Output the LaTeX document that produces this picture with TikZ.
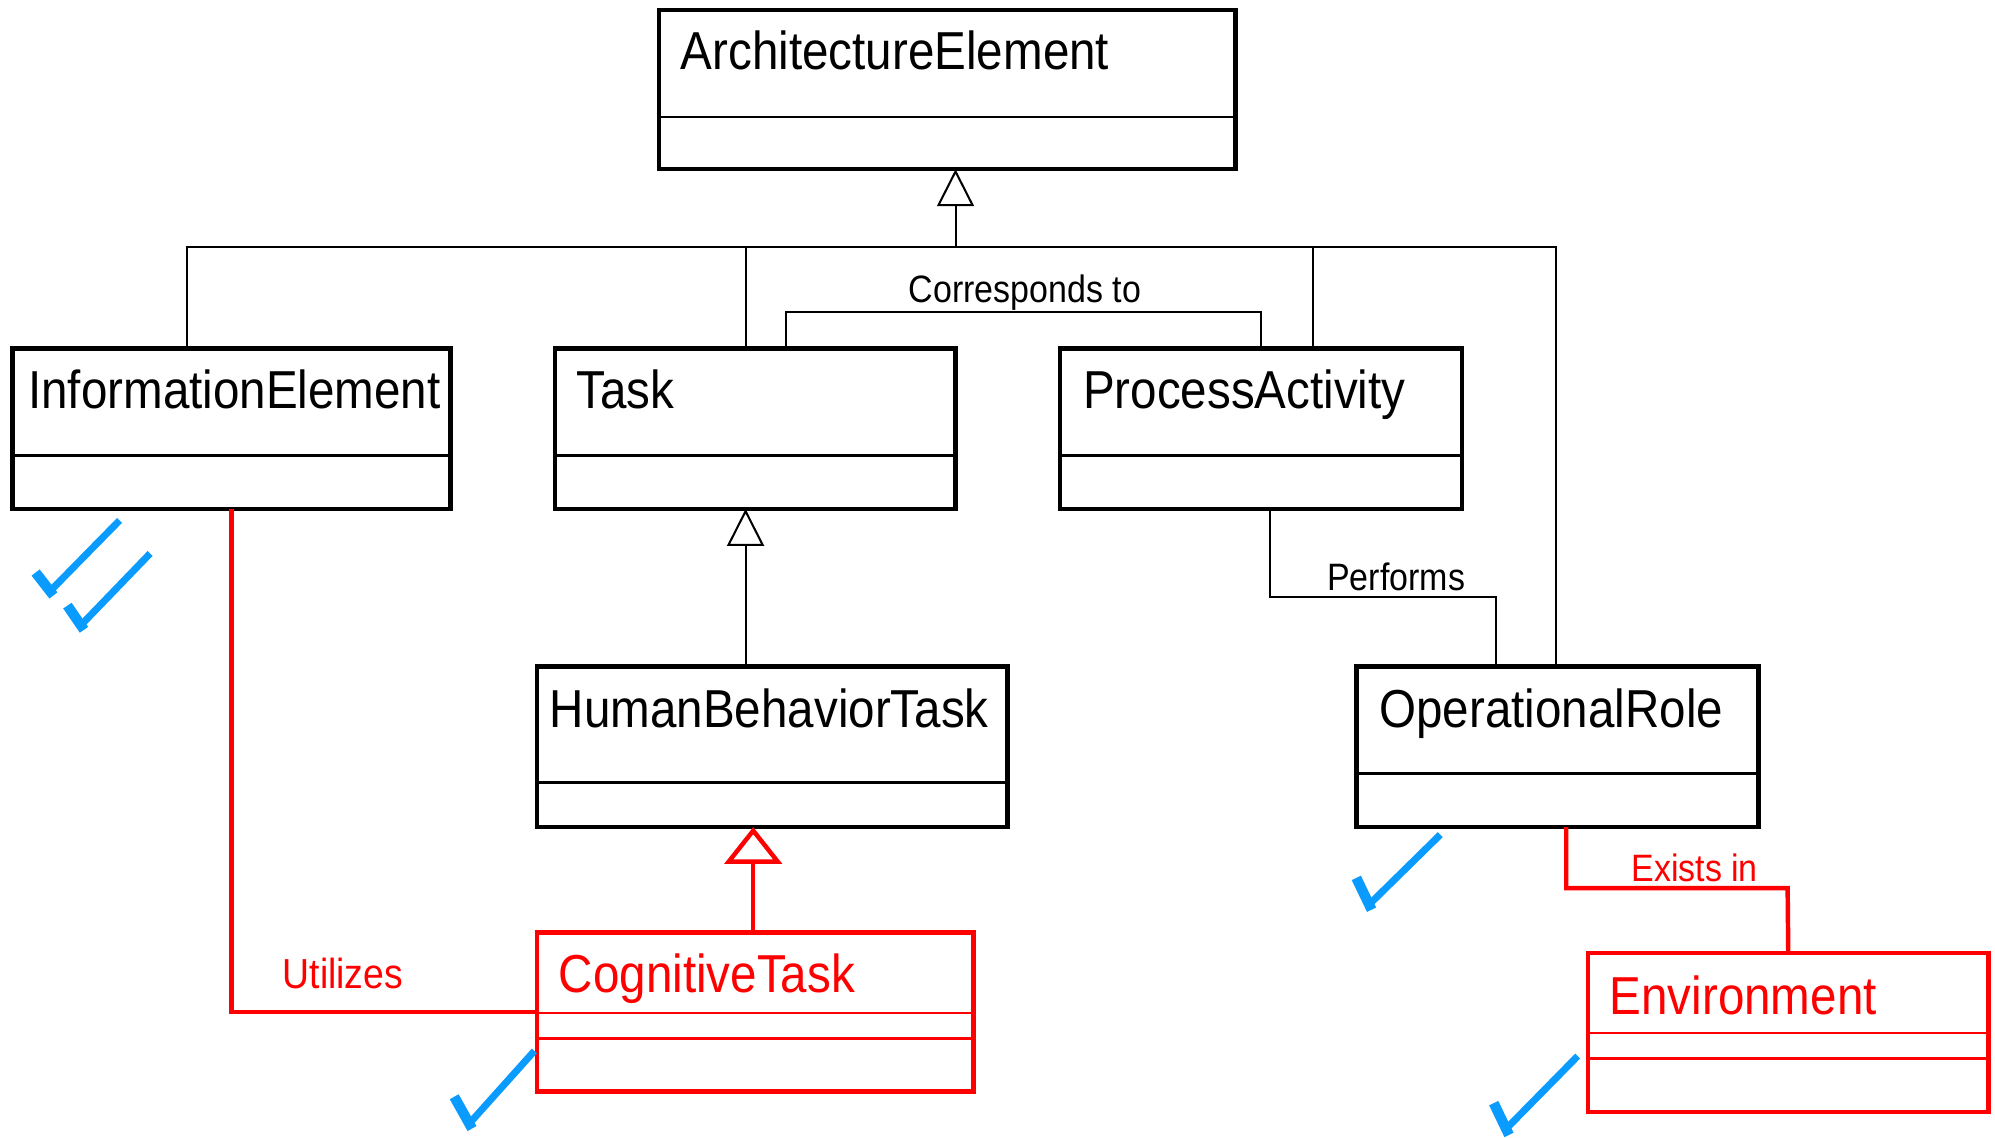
\documentclass[tikz,border=0pt]{standalone}
\usepackage{fontspec}
\setmainfont{Liberation Sans}[FakeStretch=0.89]
\usetikzlibrary{arrows.meta,positioning}
\definecolor{umlred}{RGB}{255,0,0}
\definecolor{tickblue}{RGB}{10,155,255}

\begin{document}
\begin{tikzpicture}[x=1pt, y=-1pt,
    class box/.style={draw, line width=3.5pt, inner sep=0pt, outer sep=0pt, anchor=north west},
    class name/.style={anchor=base west, inner sep=0pt, font=\fontsize{42}{48}\selectfont},
    divider/.style={line width=2pt},
    link/.style={line width=1.6pt},
    link label/.style={anchor=base west, inner sep=0pt, font=\fontsize{30}{34}\selectfont},
    inherits/.style={link, -{Triangle[open, width=29pt, length=29pt]}},
    added/.style={draw=umlred, text=umlred},
    tick/.style={draw=tickblue, line width=5.5pt, line join=miter},
    tick foot/.style={draw=tickblue, line width=8pt}]
  \useasboundingbox (0,0) rectangle (1568,894);

  % classes
  \node[class box, minimum width=453pt, minimum height=125pt] (arch) at (518,8) {};
  \node[class name] (arch name) at (535,55) {ArchitectureElement};
  \draw[divider] (arch.west |- 0,92) -- (arch.east |- 0,92);

  \node[class box, minimum width=344pt, minimum height=126pt] (info) at (10,274) {};
  \node[class name] (info name) at (22,321) {InformationElement};
  \draw[divider] (info.west |- 0,358) -- (info.east |- 0,358);

  \node[class box, minimum width=315pt, minimum height=126pt] (task) at (436,274) {};
  \node[class name] (task name) at (453,321) {Task};
  \draw[divider] (task.west |- 0,358) -- (task.east |- 0,358);

  \node[class box, minimum width=316pt, minimum height=126pt] (proc) at (833,274) {};
  \node[class name] (proc name) at (851,321) {ProcessActivity};
  \draw[divider] (proc.west |- 0,358) -- (proc.east |- 0,358);

  \node[class box, minimum width=370pt, minimum height=126pt] (hbt) at (422,524) {};
  \node[class name] (hbt name) at (432,572) {HumanBehaviorTask};
  \draw[divider] (hbt.west |- 0,615) -- (hbt.east |- 0,615);

  \node[class box, minimum width=316pt, minimum height=126pt] (role) at (1066,524) {};
  \node[class name] (role name) at (1084,572) {OperationalRole};
  \draw[divider] (role.west |- 0,608) -- (role.east |- 0,608);

  % new classes (red)
  \node[class box, added, minimum width=343pt, minimum height=125pt] (cog) at (422,733) {};
  \node[class name, added, draw=none] (cog name) at (439,780) {CognitiveTask};
  \draw[divider, umlred] (cog.west |- 0,796) -- (cog.east |- 0,796);
  \draw[divider, umlred] (cog.west |- 0,816) -- (cog.east |- 0,816);

  \node[class box, added, minimum width=315pt, minimum height=125pt] (env) at (1248,749) {};
  \node[class name, added, draw=none] (env name) at (1265,797) {Environment};
  \draw[divider, umlred] (env.west |- 0,812) -- (env.east |- 0,812);
  \draw[divider, umlred] (env.west |- 0,832) -- (env.east |- 0,832);

  % generalisation tree
  \coordinate (bus) at (751,194);
  \draw[inherits] (bus) -- (arch.south -| bus);
  \draw[link] (info.north -| 147,0) -- (147,194) -- (1223,194) -- (role.north -| 1223,0);
  \draw[link] (task.north -| 586,0) -- (586,194);
  \draw[link] (proc.north -| 1032,0) -- (1032,194);
  \draw[inherits] (hbt.north -| 586,0) -- (task.south -| 586,0);
  \draw[umlred, line width=3.5pt, -{Triangle[open, width=45pt, length=29pt]}]
    (cog.north -| 592,0) -- (hbt.south -| 592,0);

  % associations
  \draw[link] (task.north -| 618,0) -- (618,245) -- (991,245) -- (proc.north -| 991,0);
  \node[link label] (corr label) at (714,238) {Corresponds to};
  \draw[link] (proc.south -| 998,0) -- (998,469) -- (1176,469) -- (role.north -| 1176,0);
  \node[link label] (perf label) at (1043,464) {Performs};
  \draw[umlred, line width=3.5pt] (info.south -| 182,0) |- (cog.west);
  \node[link label, text=umlred, font=\fontsize{33}{38}\selectfont] (util label) at (222,777) {Utilizes};
  \draw[umlred, line width=3.5pt] (role.south -| 1231,0) -- (1231,698) -- (1405,698) -- (env.north);
  \node[link label, text=umlred] (exist label) at (1282,693) {Exists in};

  % check marks
  \draw[tick] (40,464) -- (94,409);
  \draw[tick foot] (28,450) -- (42,468);
  \draw[tick] (63,492) -- (118,435);
  \draw[tick foot] (53,476) -- (66,495);
  \draw[tick] (1075,712) -- (1132,656);
  \draw[tick foot] (1066,690) -- (1078,715);
  \draw[tick] (368,884) -- (420,826);
  \draw[tick foot] (357,862) -- (371,887);
  \draw[tick] (1183,888) -- (1240,830);
  \draw[tick foot] (1174,867) -- (1186,892);
\end{tikzpicture}
\end{document}
